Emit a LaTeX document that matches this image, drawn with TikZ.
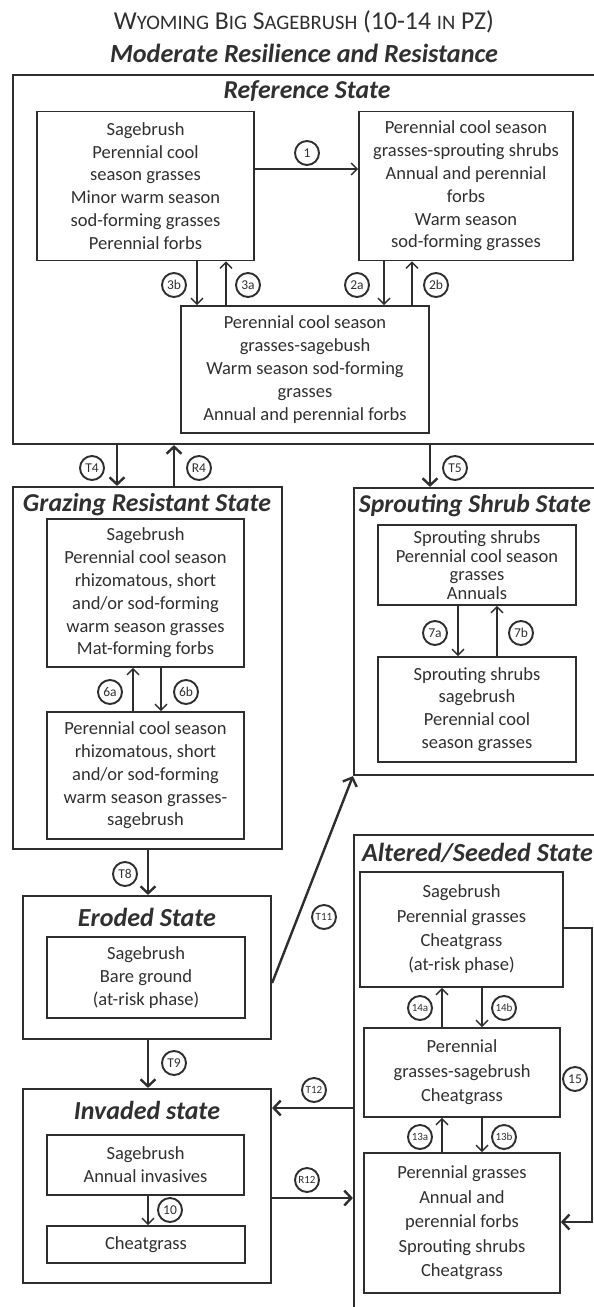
\documentclass[tikz,border=0pt]{standalone}
\usepackage{fontspec}
\setmainfont{Carlito}
\usetikzlibrary{arrows.meta}
\definecolor{ink}{HTML}{2E2E2E}
\definecolor{txt}{HTML}{303030}
\newcommand\fsc[1]{{\fontsize{20}{20}\selectfont #1}}
\begin{document}
\begin{tikzpicture}[x=1pt,y=-1pt,
  statebox/.style={draw=ink, line width=2.2pt, inner sep=0pt},
  phase/.style={draw=ink, line width=1.6pt, inner sep=0pt, align=center, text=txt,
    font=\fontsize{18.5}{22.8}\selectfont},
  stitle/.style={inner sep=0pt, text=txt, font=\fontsize{25}{25}\selectfont\bfseries\itshape},
  lab/.style={circle, draw=ink, line width=1.9pt, minimum size=24pt, inner sep=0pt, text=txt,
    font=\fontsize{13.5}{13.5}\selectfont},
  labs/.style={lab, font=\fontsize{11}{11}\selectfont},
  thinarr/.style={draw=ink, line width=1.4pt, -{Straight Barb[length=6pt,width=12pt]}},
  thickarr/.style={draw=ink, line width=2.4pt, -{Straight Barb[length=7pt,width=15pt]}}
]
\useasboundingbox (0,0) rectangle (594,1307);
\fill[white] (0,0) rectangle (594,1307);
\clip (0,0) rectangle (594,1307);

% main titles
\node[inner sep=0pt, text=txt, font=\fontsize{25}{25}\selectfont] (t1) at (304,22)
  {\resizebox{380pt}{!}{W\fsc{YOMING} B\fsc{IG} S\fsc{AGEBRUSH} (10-14 \fsc{IN} PZ)}};
\node[inner sep=0pt, text=txt, font=\fontsize{25}{25}\selectfont\bfseries\itshape] (t2) at (304,53)
  {\resizebox{388pt}{!}{Moderate Resilience and Resistance}};

% outer state boxes
\node[statebox, minimum width=587, minimum height=369] (ref) at (306.5,259.5) {};
\node[statebox, minimum width=269, minimum height=362] (graz) at (147.5,668) {};
\node[statebox, minimum width=246, minimum height=287] (sprout) at (477,631.5) {};
\node[statebox, minimum width=248, minimum height=143] (eroded) at (147,967.5) {};
\node[statebox, minimum width=248, minimum height=194] (invaded) at (147,1186) {};
\node[statebox, minimum width=246, minimum height=495] (altered) at (477,1082.5) {};

% state titles
\node[stitle] (refT) at (307,91) {\resizebox{167pt}{!}{Reference State}};
\node[stitle] (grazT) at (147,505) {\resizebox{248pt}{!}{Grazing Resistant State}};
\node[stitle] (sproutT) at (475,506) {\resizebox{232pt}{!}{Sprouting Shrub State}};
\node[stitle] (erodedT) at (147,917) {\resizebox{138pt}{!}{Eroded State}};
\node[stitle] (invadedT) at (147,1110) {\resizebox{146pt}{!}{Invaded state}};
\node[stitle] (alteredT) at (477.5,853) {\resizebox{231pt}{!}{Altered/Seeded State}};

% phases
\node[phase, minimum width=217, minimum height=149] (A) at (145.5,186)
  {Sagebrush\\Perennial cool\\season grasses\\Minor warm season\\sod-forming grasses\\Perennial forbs};
\node[phase, minimum width=214, minimum height=149] (B) at (466,186)
  {Perennial cool season\\grasses-sprouting shrubs\\Annual and perennial\\forbs\\Warm season\\sod-forming grasses};
\node[phase, minimum width=248, minimum height=127] (C) at (305,369.5)
  {Perennial cool season\\grasses-sagebush\\Warm season sod-forming\\grasses\\Annual and perennial forbs};
\node[phase, minimum width=197, minimum height=148] (G1) at (145.5,593)
  {Sagebrush\\Perennial cool season\\rhizomatous, short\\and/or sod-forming\\warm season grasses\\Mat-forming forbs};
\node[phase, minimum width=197, minimum height=127] (G2) at (145.5,775.5)
  {Perennial cool season\\rhizomatous, short\\and/or sod-forming\\warm season grasses-\\sagebrush};
\node[phase, minimum width=198, minimum height=80, font=\fontsize{18.5}{18.6}\selectfont] (S1) at (477,565)
  {Sprouting shrubs\\Perennial cool season\\grasses\\Annuals};
\node[phase, minimum width=198, minimum height=105] (S2) at (477,709.5)
  {Sprouting shrubs\\sagebrush\\Perennial cool\\season grasses};
\node[phase, minimum width=198, minimum height=81] (E1) at (146,977.5)
  {Sagebrush\\Bare ground\\(at-risk phase)};
\node[phase, minimum width=197, minimum height=60] (I1) at (145.5,1165)
  {Sagebrush\\Annual invasives};
\node[phase, minimum width=198, minimum height=37] (I2) at (146,1244.5)
  {Cheatgrass};
\node[phase, minimum width=203, minimum height=115, font=\fontsize{18.5}{24.3}\selectfont] (AS1) at (461.5,929.5)
  {Sagebrush\\Perennial grasses\\Cheatgrass\\(at-risk phase)};
\node[phase, minimum width=196, minimum height=89, font=\fontsize{18.5}{24.5}\selectfont] (AS2) at (462,1072.5)
  {Perennial\\grasses-sagebrush\\Cheatgrass};
\node[phase, minimum width=196, minimum height=140, font=\fontsize{18.5}{24.5}\selectfont] (AS3) at (462,1223)
  {Perennial grasses\\Annual and\\perennial forbs\\Sprouting shrubs\\Cheatgrass};

% helper coordinates
\coordinate (y1) at (0,169);
\coordinate (x3b) at (197,0);
\coordinate (x3a) at (226,0);
\coordinate (x2a) at (384,0);
\coordinate (x2b) at (412,0);
\coordinate (xT4) at (117,0);
\coordinate (xR4) at (174,0);
\coordinate (xT5) at (430,0);
\coordinate (x7a) at (458,0);
\coordinate (x7b) at (497,0);
\coordinate (x6a) at (133,0);
\coordinate (x6b) at (161,0);
\coordinate (xT8) at (148,0);
\coordinate (yT11) at (0,983);
\coordinate (yT12) at (0,1108);
\coordinate (yR12) at (0,1198);
\coordinate (x14a) at (442,0);
\coordinate (x14b) at (482,0);
\coordinate (y15a) at (0,928);
\coordinate (y15b) at (0,1222);
\coordinate (c15a) at (592,928);
\coordinate (c15b) at (592,1222);

% connectors within reference state
\draw[thinarr] (A.east |- y1) -- (B.west |- y1);
\draw[thinarr] (A.south -| x3b) -- (C.north -| x3b);
\draw[thinarr] (C.north -| x3a) -- (A.south -| x3a);
\draw[thinarr] (B.south -| x2a) -- (C.north -| x2a);
\draw[thinarr] (C.north -| x2b) -- (B.south -| x2b);
\node[lab] (l1) at (307,153) {1};
\node[lab] (l3b) at (174,285) {3b};
\node[lab] (l3a) at (248,285) {3a};
\node[lab] (l2a) at (357,285) {2a};
\node[lab] (l2b) at (436,285) {2b};

% transitions from reference
\draw[thickarr] (ref.south -| xT4) -- (graz.north -| xT4);
\draw[thickarr] (graz.north -| xR4) -- (ref.south -| xR4);
\draw[thickarr] (ref.south -| xT5) -- (sprout.north -| xT5);
\node[lab] (lT4) at (92,468) {T4};
\node[lab] (lR4) at (199,468) {R4};
\node[lab] (lT5) at (455,468) {T5};

% grazing resistant
\draw[thinarr] (G2.north -| x6a) -- (G1.south -| x6a);
\draw[thinarr] (G1.south -| x6b) -- (G2.north -| x6b);
\node[lab] (l6a) at (110,692) {6a};
\node[lab] (l6b) at (186,692) {6b};

% sprouting shrub
\draw[thinarr] (S1.south -| x7a) -- (S2.north -| x7a);
\draw[thinarr] (S2.north -| x7b) -- (S1.south -| x7b);
\node[lab] (l7a) at (435,633) {7a};
\node[lab] (l7b) at (521,633) {7b};

% T8, T9, T11
\draw[thickarr] (graz.south -| xT8) -- (eroded.north -| xT8);
\node[lab] (lT8) at (125,874) {T8};
\draw[thickarr] (eroded.east |- yT11) -- (sprout.south west);
\node[labs] (lT11) at (324,917) {T11};
\draw[thickarr] (eroded.south -| xT8) -- (invaded.north -| xT8);
\node[lab] (lT9) at (174,1063) {T9};

% invaded
\draw[thinarr] (I1.south -| xT8) -- (I2.north -| xT8);
\node[lab] (l10) at (170,1210) {10};

% T12 and R12
\draw[thickarr] (altered.west |- yT12) -- (invaded.east |- yT12);
\node[labs] (lT12) at (314,1090) {T12};
\draw[thickarr] (invaded.east |- yR12) -- (altered.west |- yR12);
\node[labs] (lR12) at (307,1180) {R12};

% altered / seeded
\draw[thinarr] (AS2.north -| x14a) -- (AS1.south -| x14a);
\draw[thinarr] (AS1.south -| x14b) -- (AS2.north -| x14b);
\node[labs] (l14a) at (420,1008) {14a};
\node[labs] (l14b) at (504,1008) {14b};
\draw[thinarr] (AS3.north -| x14a) -- (AS2.south -| x14a);
\draw[thinarr] (AS2.south -| x14b) -- (AS3.north -| x14b);
\node[labs] (l13a) at (420,1137) {13a};
\node[labs] (l13b) at (504,1137) {13b};
\draw[thickarr] (AS1.east |- y15a) -- (c15a) -- (c15b) -- (AS3.east |- y15b);
\node[lab] (l15) at (575,1079) {15};
\end{tikzpicture}
\end{document}
